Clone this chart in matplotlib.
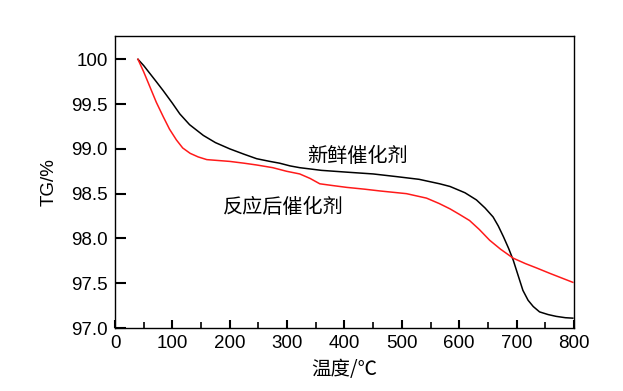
import matplotlib
matplotlib.use('Agg')
import matplotlib.pyplot as plt
from matplotlib.ticker import MultipleLocator

plt.rcParams['font.family'] = ['Liberation Sans', 'Noto Sans CJK SC', 'DejaVu Sans']
plt.rcParams['font.size'] = 13.5

# fresh catalyst (black)
fresh_t = [40, 50, 61, 72, 84, 100, 113, 130, 154, 175, 200, 225, 247, 270, 287, 305, 322,
           360, 404, 450, 491, 530, 566, 584, 610, 630, 645, 659, 668, 677, 686, 694,
           703, 711, 720, 729, 740, 755, 769, 785, 798]
fresh_w = [100.0, 99.93, 99.84, 99.75, 99.65, 99.51, 99.39, 99.27, 99.15, 99.07, 99.0,
           98.94, 98.89, 98.86, 98.84, 98.81, 98.79, 98.76, 98.74, 98.72, 98.69, 98.66,
           98.61, 98.58, 98.51, 98.43, 98.34, 98.24, 98.14, 98.02, 97.89, 97.76, 97.58,
           97.42, 97.31, 97.24, 97.18, 97.15, 97.13, 97.115, 97.11]

# used catalyst (red)
used_t = [40, 50, 61, 72, 84, 95, 107, 118, 131, 145, 160, 180, 200, 225, 247, 275, 299,
          322, 340, 357, 380, 404, 435, 462, 508, 543, 565, 584, 600, 618, 635, 653, 672,
          694, 715, 735, 758, 778, 798]
used_w = [100.0, 99.86, 99.69, 99.52, 99.36, 99.22, 99.10, 99.01, 98.95, 98.91, 98.88,
          98.87, 98.86, 98.84, 98.82, 98.79, 98.75, 98.72, 98.67, 98.61, 98.59, 98.57,
          98.55, 98.53, 98.50, 98.45, 98.39, 98.33, 98.27, 98.20, 98.10, 97.98, 97.88,
          97.78, 97.72, 97.67, 97.61, 97.56, 97.51]

fig = plt.figure(figsize=(6.23, 3.91), dpi=100)
ax = fig.add_axes([0.1846, 0.1611, 0.7367, 0.7468])

ax.plot(fresh_t, fresh_w, color='black', lw=1.1)
ax.plot(used_t, used_w, color='#ff1a1a', lw=1.1)

ax.text(422, 98.92, '新鲜催化剂', ha='center', va='center', fontsize=14.5,
        family=['Noto Sans CJK SC'])
ax.text(293, 98.35, '反应后催化剂', ha='center', va='center', fontsize=14.5,
        family=['Noto Sans CJK SC'])

ax.set_xlim(0, 800)
ax.set_ylim(97.0, 100.26)
ax.xaxis.set_major_locator(MultipleLocator(100))
ax.xaxis.set_minor_locator(MultipleLocator(50))
ax.set_yticks([97.0, 97.5, 98.0, 98.5, 99.0, 99.5, 100.0])
ax.set_yticklabels(['97.0', '97.5', '98.0', '98.5', '99.0', '99.5', '100'])

ax.tick_params(axis='both', which='major', direction='in', length=6, width=1.5, pad=5)
ax.tick_params(axis='x', which='minor', direction='in', length=4, width=1.2)
ax.tick_params(axis='y', which='major', length=8)

for s in ax.spines.values():
    s.set_linewidth(1.0)

ax.set_xlabel('温度/℃', family=['Noto Sans CJK SC', 'DejaVu Sans'], fontsize=14, labelpad=5)
ax.set_ylabel('TG/%', labelpad=10)

fig.savefig('out.png', dpi=100)
